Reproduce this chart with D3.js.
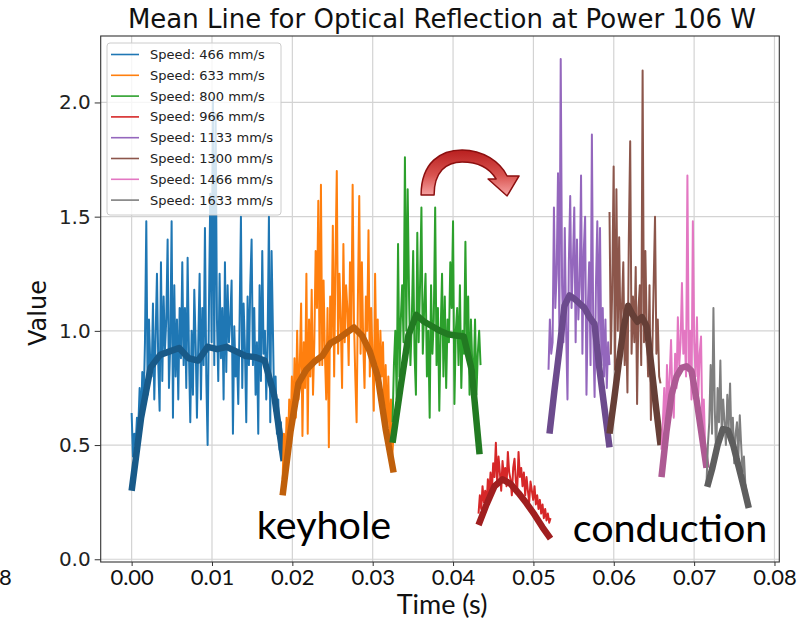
<!DOCTYPE html>
<html>
<head>
<meta charset="utf-8">
<script src="https://cdn.jsdelivr.net/npm/d3@7"></script>
<style>
html,body{margin:0;padding:0;background:#fff;}
svg{display:block;}
</style>
</head>
<body>
<svg id="chart" width="801" height="621"></svg>
<script>
// ---------------- DATA ----------------
const speeds = [466, 633, 800, 966, 1133, 1300, 1466, 1633];
const xTicks = [0.00, 0.01, 0.02, 0.03, 0.04, 0.05, 0.06, 0.07, 0.08];
const xTickLabels = ["0.00","0.01","0.02","0.03","0.04","0.05","0.06","0.07","0.08"];
const yTicks = [0.0, 0.5, 1.0, 1.5, 2.0];
const yTickLabels = ["0.0","0.5","1.0","1.5","2.0"];

// time span (s) of each raw signal
const rawStart = [0.0000, 0.01879, 0.03247, 0.04317, 0.05188, 0.05947, 0.06594, 0.07154];
const rawEnd   = [0.01891, 0.03260, 0.04342, 0.05213, 0.05947, 0.06582, 0.07154, 0.07689];
// time span (s) of each mean line
const meanStart = [0.0000, 0.01879, 0.03247, 0.04317, 0.05200, 0.05947, 0.06594, 0.07163];
const meanEnd   = [0.01891, 0.03260, 0.04330, 0.05213, 0.05947, 0.06582, 0.07154, 0.07680];

// raw optical reflection signals
const raw466 = [0.64,0.45,0.55,0.50,0.62,0.58,0.75,0.60,0.82,0.68,
  0.95,1.48,0.72,1.05,0.85,0.80,1.12,0.70,0.98,1.25,
  0.85,0.65,1.30,0.78,1.15,0.92,1.05,1.40,0.75,0.95,
  1.48,0.62,1.20,0.80,1.05,0.70,1.10,0.88,1.30,0.85,
  1.10,0.75,1.32,0.90,0.60,1.00,0.72,1.18,0.95,0.62,
  0.95,1.25,0.70,1.10,0.85,1.45,0.80,0.50,1.10,1.60,
  0.95,2.02,0.85,1.95,1.05,0.78,1.25,0.88,1.10,0.70,
  1.30,0.82,1.20,0.95,1.05,1.22,0.55,1.02,0.80,0.90,
  0.68,1.05,1.50,0.75,1.12,0.92,0.60,1.15,0.85,1.20,
  1.40,0.85,1.10,0.72,0.95,0.55,1.20,0.78,1.35,0.90,
  1.00,0.70,0.95,1.50,0.60,1.35,1.00,0.65,0.80,0.55,
  0.70,0.48,0.60,0.45,0.45];
const raw633 = [0.35,0.55,0.42,0.62,0.48,0.70,0.54,0.80,0.60,0.88,
  0.62,1.00,0.70,0.85,1.12,0.54,0.95,0.75,1.25,0.55,
  1.05,0.80,1.18,0.72,0.95,1.35,1.10,1.57,0.85,1.64,
  0.85,1.22,0.90,0.70,1.10,0.49,1.15,0.95,1.46,0.80,
  1.30,1.70,0.90,1.25,1.05,0.75,1.38,0.95,1.20,1.10,
  0.85,1.30,1.00,1.64,1.05,0.80,0.60,1.15,1.59,0.90,
  1.30,0.95,0.75,1.15,1.00,1.44,0.80,1.10,0.90,0.65,
  1.25,0.85,1.05,0.70,1.00,0.80,0.95,0.65,0.85,0.57,
  0.80,0.50,0.70,0.45,0.55];
const raw800 = [0.60,0.85,1.00,0.70,1.38,0.80,1.05,1.20,0.95,1.76,
  1.00,1.62,1.15,0.85,1.05,1.35,0.90,0.72,1.43,0.95,
  1.20,1.54,0.90,1.10,1.25,0.80,1.00,0.62,1.20,0.90,
  1.05,1.54,0.85,1.10,0.65,1.00,1.25,0.80,1.15,0.75,
  1.05,0.95,1.30,1.10,1.48,0.68,1.00,1.10,0.85,1.20,
  0.75,1.00,0.90,1.39,0.90,1.15,0.72,1.05,0.85,0.80,
  1.05,0.72,0.90,1.00,0.85];
const raw966 = [0.20,0.28,0.22,0.32,0.25,0.30,0.23,0.35,0.28,0.38,
  0.30,0.42,0.36,0.51,0.33,0.45,0.38,0.30,0.43,0.36,
  0.40,0.32,0.47,0.38,0.35,0.28,0.40,0.44,0.34,0.30,
  0.47,0.36,0.40,0.32,0.38,0.28,0.36,0.30,0.25,0.34,
  0.30,0.26,0.32,0.24,0.28,0.22,0.26,0.20,0.24,0.18,
  0.22,0.17,0.20,0.16,0.18];
const raw1133 = [0.83,1.05,0.90,0.95,1.54,1.10,1.25,1.69,1.00,2.19,
  1.20,0.95,1.45,1.00,0.70,1.30,1.59,1.10,1.30,1.54,
  0.95,1.40,1.05,1.20,1.68,0.90,1.35,1.50,0.72,1.10,
  1.30,0.85,1.86,1.00,0.71,1.20,1.48,0.95,1.45,0.85,
  1.10,0.80,1.05,0.75,0.95,0.85];
const raw1300 = [1.52,0.90,1.20,1.72,0.83,1.62,1.00,1.41,0.95,1.10,
  1.30,0.85,1.05,0.73,1.40,1.83,0.90,1.15,0.95,1.28,
  0.68,1.10,1.20,0.85,2.14,0.95,1.35,1.00,0.80,1.20,
  0.61,0.90,1.20,1.50,0.90,1.05,0.80,0.77];
const raw1466 = [0.48,0.60,0.75,0.52,0.85,0.65,0.80,0.96,0.70,0.62,
  0.90,0.75,1.06,0.85,0.95,1.21,0.90,1.00,0.80,1.68,
  0.85,1.00,0.70,1.48,0.95,0.80,1.06,0.72,0.90,0.975,
  0.55,0.70,0.50,0.42];
const raw1633 = [0.33,0.50,0.60,0.85,0.55,1.10,0.65,0.45,0.75,0.60,
  0.87,0.55,0.70,0.60,0.50,0.72,0.58,0.77,0.52,0.62,
  0.42,0.55,0.60,0.45,0.63,0.50,0.38,0.45,0.33,0.29,
  0.26,0.24];

// rolling mean lines
const mean466 = [0.30,0.62,0.84,0.895,0.91,0.925,0.88,0.87,0.93,0.92,0.93,0.91,0.89,0.885,0.87,0.72,0.43];
const mean633 = [0.28,0.56,0.77,0.83,0.865,0.89,0.945,0.965,0.99,1.015,0.98,0.91,0.80,0.57,0.38];
const mean800 = [0.51,0.75,0.98,1.07,1.04,1.02,1.00,0.985,0.98,0.975,0.83,0.46];
const mean966 = [0.15,0.24,0.32,0.35,0.33,0.29,0.245,0.195,0.14,0.09];
const mean1133 = [0.55,0.74,0.92,1.11,1.155,1.14,1.12,1.10,1.06,1.03,0.83,0.66,0.49];
const mean1300 = [0.55,0.70,0.86,1.01,1.11,1.07,1.04,1.06,1.02,0.85,0.67,0.50];
const mean1466 = [0.36,0.56,0.72,0.80,0.838,0.845,0.825,0.70,0.55,0.40];
const mean1633 = [0.317,0.40,0.50,0.57,0.565,0.50,0.41,0.32,0.224];

const rawSeries = [raw466, raw633, raw800, raw966, raw1133, raw1300, raw1466, raw1633];
const meanSeries = [mean466, mean633, mean800, mean966, mean1133, mean1300, mean1466, mean1633];

// ---------------- STYLE ----------------
const rawColors  = ["#1f77b4","#ff7f0e","#2ca02c","#d62728","#9467bd","#8c564b","#e377c2","#7f7f7f"];
const meanColors = ["#185a89","#c0600b","#227a22","#a01e1f","#6c4b8d","#663f37","#ad5a93","#5e5e5e"];

const svg = d3.select("#chart");
const W = 801, H = 621;
const plot = {left: 100.7, right: 779.3, top: 36, bottom: 562};

const x = d3.scaleLinear().domain([-0.00385, 0.0806]).range([plot.left, plot.right]);
const y = d3.scaleLinear().domain([-0.012, 2.291]).range([plot.bottom, plot.top]);

svg.append("rect").attr("width", W).attr("height", H).attr("fill", "#fff");

// grid
const grid = svg.append("g");
grid.selectAll("line.gx").data(xTicks).enter().append("line")
  .attr("x1", d => x(d)).attr("x2", d => x(d))
  .attr("y1", plot.top).attr("y2", plot.bottom)
  .attr("stroke", "#d3d3d3").attr("stroke-width", 1.2);
grid.selectAll("line.gy").data(yTicks).enter().append("line")
  .attr("x1", plot.left).attr("x2", plot.right)
  .attr("y1", d => y(d)).attr("y2", d => y(d))
  .attr("stroke", "#d3d3d3").attr("stroke-width", 1.2);

// axes
const yAxis = d3.axisLeft(y).tickValues(yTicks).tickFormat((d, i) => yTickLabels[i]).tickSize(6).tickPadding(4);
const gy = svg.append("g").attr("transform", `translate(${plot.left},0)`).call(yAxis);
gy.select(".domain").remove();
gy.selectAll(".tick line").attr("stroke", "#333");
gy.selectAll(".tick text").attr("font-family", "DejaVu Sans").attr("font-size", 20).attr("fill", "#222");

const xAxis = d3.axisBottom(x).tickValues(xTicks).tickFormat((d, i) => xTickLabels[i]).tickSize(4).tickPadding(3);
const gx = svg.append("g").attr("transform", `translate(0,${plot.bottom})`).call(xAxis);
gx.select(".domain").remove();
gx.selectAll(".tick line").attr("stroke", "#333");
gx.selectAll(".tick text").attr("font-family", "Lato").attr("font-size", 22).attr("fill", "#111");

// series
const lineGen = d3.line().x(d => x(d[0])).y(d => y(d[1]));
const seriesG = svg.append("g");
rawSeries.forEach((vals, k) => {
  const n = vals.length;
  const pts = vals.map((v, i) => [rawStart[k] + (rawEnd[k] - rawStart[k]) * i / (n - 1), v]);
  seriesG.append("path").attr("d", lineGen(pts)).attr("fill", "none")
    .attr("stroke", rawColors[k]).attr("stroke-width", 2.0).attr("stroke-linejoin", "round");
  const m = meanSeries[k];
  const mpts = m.map((v, i) => [meanStart[k] + (meanEnd[k] - meanStart[k]) * i / (m.length - 1), v]);
  seriesG.append("path").attr("d", lineGen(mpts)).attr("fill", "none")
    .attr("stroke", meanColors[k]).attr("stroke-width", 6.5).attr("stroke-linejoin", "round")
    .attr("stroke-linecap", "butt");
});

// spines
svg.append("rect").attr("x", plot.left).attr("y", plot.top)
  .attr("width", plot.right - plot.left).attr("height", plot.bottom - plot.top)
  .attr("fill", "none").attr("stroke", "#333").attr("stroke-width", 1.1);

// legend
const lg = svg.append("g");
lg.append("rect").attr("x", 107).attr("y", 43).attr("width", 174).attr("height", 172).attr("rx", 3)
  .attr("fill", "#fff").attr("fill-opacity", 0.8).attr("stroke", "#cccccc").attr("stroke-width", 1);
speeds.forEach((s, i) => {
  const yy = 54.5 + i * 20.8;
  lg.append("line").attr("x1", 111).attr("x2", 139).attr("y1", yy).attr("y2", yy)
    .attr("stroke", rawColors[i]).attr("stroke-width", 1.6);
  lg.append("text").attr("x", 150).attr("y", yy).attr("dy", "0.35em")
    .attr("font-family", "DejaVu Sans").attr("font-size", 13).attr("fill", "#222")
    .text(`Speed: ${s} mm/s`);
});

// title & labels
svg.append("text").attr("x", 442).attr("y", 28).attr("text-anchor", "middle")
  .attr("font-family", "DejaVu Sans").attr("font-size", 26).attr("fill", "#111")
  .text("Mean Line for Optical Reflection at Power 106 W");
svg.append("text").attr("transform", "translate(46,313) rotate(-90)").attr("text-anchor", "middle")
  .attr("font-family", "DejaVu Sans").attr("font-size", 24).attr("fill", "#111").text("Value");
svg.append("text").attr("x", 442).attr("y", 614).attr("text-anchor", "middle")
  .attr("font-family", "Lato").attr("font-size", 27).attr("fill", "#111").text("Time (s)");
svg.append("text").attr("x", -1).attr("y", 585)
  .attr("font-family", "Lato").attr("font-size", 22).attr("fill", "#111").text("8");

// annotations
svg.append("text").attr("x", 324).attr("y", 539).attr("text-anchor", "middle")
  .attr("font-family", "Lato").attr("font-size", 39.5).attr("fill", "#000").text("keyhole");
svg.append("text").attr("x", 670).attr("y", 542).attr("text-anchor", "middle")
  .attr("font-family", "Lato").attr("font-size", 39.5).attr("fill", "#000").text("conduction");

// curved arrow
const defs = svg.append("defs");
const grad = defs.append("linearGradient").attr("id", "arrowGrad")
  .attr("x1", 0).attr("y1", 0).attr("x2", 0).attr("y2", 1);
grad.append("stop").attr("offset", "0%").attr("stop-color", "#b81f1f");
grad.append("stop").attr("offset", "55%").attr("stop-color", "#d9534f");
grad.append("stop").attr("offset", "100%").attr("stop-color", "#f7a5a5");
const ax = x(0.04125), ay = y(1.595);
svg.append("path")
  .attr("transform", `translate(${ax},${ay})`)
  .attr("d", "M -42,0 C -42,-33 -22,-45 -1,-45 C 20,-45 37,-33 44,-19 L 56,-19 L 44,1 L 25,-16 L 33,-16 C 27,-26 16,-33 -1,-33 C -17,-33 -29,-23 -29,0 Z")
  .attr("fill", "url(#arrowGrad)").attr("stroke", "#8b0f0f").attr("stroke-width", 1.5)
  .attr("stroke-linejoin", "round");
</script>
</body>
</html>
